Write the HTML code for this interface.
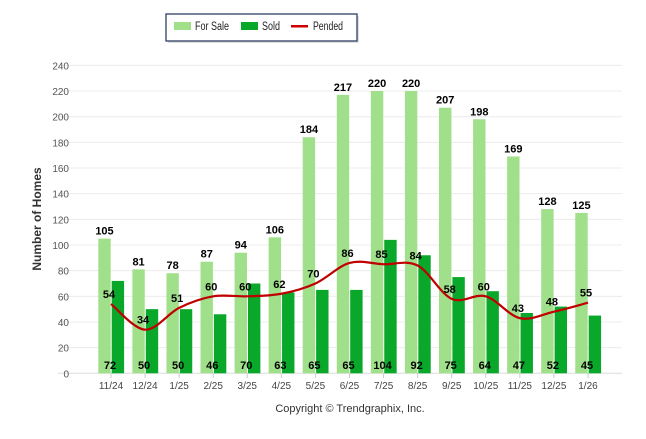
<!DOCTYPE html>
<html><head><meta charset="utf-8"><style>
body{margin:0;background:#fff;width:646px;height:434px;overflow:hidden;font-family:"Liberation Sans",sans-serif}
</style></head><body>
<svg id="chart" width="646" height="434" xmlns="http://www.w3.org/2000/svg" font-family="Liberation Sans, sans-serif">
<g>
<rect x="168" y="16" width="191" height="27" fill="#ccc" opacity="0.6"/>
<rect x="166" y="14" width="191" height="27" fill="#fff" stroke="#1f3056" stroke-width="1.2"/>
<rect x="174" y="22" width="17" height="8" fill="#a0e08a"/>
<text x="195" y="30" font-size="11.5" textLength="34" lengthAdjust="spacingAndGlyphs" fill="#222">For Sale</text>
<rect x="241" y="22" width="17" height="8" fill="#0aa82a"/>
<text x="262" y="30" font-size="11.5" textLength="18" lengthAdjust="spacingAndGlyphs" fill="#222">Sold</text>
<rect x="291" y="25" width="17" height="2.5" fill="#cc0000"/>
<text x="313" y="30" font-size="11.5" textLength="30" lengthAdjust="spacingAndGlyphs" fill="#222">Pended</text>
</g>
<text transform="translate(41,219) rotate(-90)" text-anchor="middle" font-size="12" font-weight="bold" fill="#333">Number of Homes</text>
<text x="350" y="412" text-anchor="middle" font-size="11" fill="#333">Copyright © Trendgraphix, Inc.</text>
<g id="grid"></g><g id="bars"></g><g id="line"></g><g id="labels"></g>
</svg>
<script>
const categories=["11/24","12/24","1/25","2/25","3/25","4/25","5/25","6/25","7/25","8/25","9/25","10/25","11/25","12/25","1/26"];
const forSale=[105,81,78,87,94,106,184,217,220,220,207,198,169,128,125];
const sold=[72,50,50,46,70,63,65,65,104,92,75,64,47,52,45];
const pended=[54,34,51,60,60,62,70,86,85,84,58,60,43,48,55];
const yTicks=[0,20,40,60,80,100,120,140,160,180,200,220,240];
const NS="http://www.w3.org/2000/svg";
const y=v=>373.3-v*1.283;
const x=i=>111+i*34.07;
function el(t,a,p){const e=document.createElementNS(NS,t);for(const k in a)e.setAttribute(k,a[k]);document.getElementById(p).appendChild(e);return e;}
yTicks.forEach(t=>{
 const g=el("line",{x1:58,x2:622,y1:y(t),y2:y(t),stroke:t?"#ececec":"#dcdcdc","stroke-width":1},"grid");
 
 
 const l=el("text",{x:69,y:y(t)+4,"text-anchor":"end","font-size":10,fill:"#555"},"grid");l.textContent=t;
 
 
});
categories.forEach((c,i)=>{
 const tk=el("line",{x1:x(i),x2:x(i),y1:373,y2:378,stroke:"#ccc"},"grid");
 
 
 const l=el("text",{x:x(i),y:389,"text-anchor":"middle","font-size":10,fill:"#444"},"grid");l.textContent=c;
 
 
 const b1=el("rect",{x:x(i)-12.7,y:y(forSale[i]),width:12.4,height:y(0)-y(forSale[i]),fill:"#a0e08a"},"bars");
 
 
 const b2=el("rect",{x:x(i)+0.7,y:y(sold[i]),width:12.4,height:y(0)-y(sold[i]),fill:"#0aa82a"},"bars");
 
 
 const t1=el("text",{x:x(i)-6.5,y:y(forSale[i])-4,"text-anchor":"middle","font-size":11,"font-weight":"bold",fill:"#000"},"labels");t1.textContent=forSale[i];
 
 
 const t2=el("text",{x:x(i)-1,y:369,"text-anchor":"middle","font-size":11,"font-weight":"bold",fill:"#000"},"labels");t2.textContent=sold[i];
 
 
 const t3=el("text",{x:x(i)-2,y:y(pended[i])-6,"text-anchor":"middle","font-size":11,"font-weight":"bold",fill:"#000"},"labels");t3.textContent=pended[i];
 
 
});
const pts=pended.map((v,i)=>[x(i),y(v)]);
let d="M"+pts[0][0]+","+pts[0][1];
for(let i=0;i<pts.length-1;i++){
 const p0=pts[Math.max(i-1,0)],p1=pts[i],p2=pts[i+1],p3=pts[Math.min(i+2,pts.length-1)];
 const c1=[p1[0]+(p2[0]-p0[0])/6,p1[1]+(p2[1]-p0[1])/6],c2=[p2[0]-(p3[0]-p1[0])/6,p2[1]-(p3[1]-p1[1])/6];
 d+=` C${c1[0]},${c1[1]} ${c2[0]},${c2[1]} ${p2[0]},${p2[1]}`;
}
const ln=el("path",{d:d,fill:"none",stroke:"#c00000","stroke-width":2.2},"line");


</script>
</body></html>
